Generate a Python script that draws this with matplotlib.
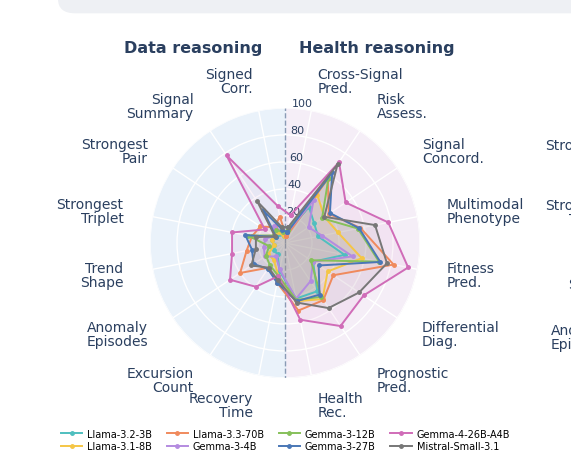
import numpy as np
import matplotlib
matplotlib.use('Agg')
import matplotlib.pyplot as plt
from matplotlib.patches import FancyBboxPatch

# axes, clockwise from top (right half = health, left half = data)
axes_labels = ["Cross-Signal\nPred.", "Risk\nAssess.", "Signal\nConcord.", "Multimodal\nPhenotype",
               "Fitness\nPred.", "Differential\nDiag.", "Prognostic\nPred.", "Health\nRec.",
               "Recovery\nTime", "Excursion\nCount", "Anomaly\nEpisodes", "Trend\nShape",
               "Strongest\nTriplet", "Strongest\nPair", "Signal\nSummary", "Signed\nCorr."]

llama_32_3b = [8, 32, 26, 25, 45, 25, 43, 42, 21, 10, 10, 8, 10, 8, 8, 5]
llama_31_8b = [8, 43, 35, 40, 58, 38, 50, 44, 25, 15, 15, 8, 10, 10, 10, 5]
llama_33_70b = [5, 57, 39, 57, 82, 43, 51, 51, 30, 22, 40, 29, 25, 22, 14, 20]
gemma_3_4b = [8, 38, 21, 28, 51, 25, 34, 42, 20, 12, 18, 16, 15, 10, 15, 8]
gemma_3_12b = [10, 58, 33, 55, 71, 23, 48, 43, 25, 20, 17, 12, 28, 10, 12, 8]
gemma_3_27b = [8, 63, 40, 56, 72, 30, 46, 44, 30, 23, 28, 25, 30, 8, 29, 10]
gemma_4_26b = [21, 72, 54, 78, 93, 70, 74, 58, 25, 39, 49, 40, 40, 18, 78, 28]
mistral_small = [12, 70, 35, 68, 77, 66, 58, 45, 28, 22, 30, 22, 22, 9, 37, 12]

series = [
    ("Llama-3.2-3B", llama_32_3b, "#4fbfbf"),
    ("Llama-3.1-8B", llama_31_8b, "#f5c645"),
    ("Llama-3.3-70B", llama_33_70b, "#f08a5d"),
    ("Gemma-3-4B", gemma_3_4b, "#b48be0"),
    ("Gemma-3-12B", gemma_3_12b, "#86c05a"),
    ("Gemma-3-27B", gemma_3_27b, "#4a77b6"),
    ("Gemma-4-26B-A4B", gemma_4_26b, "#d06cb8"),
    ("Mistral-Small-3.1", mistral_small, "#777777"),
]

TXT = "#2a3f5f"
n = len(axes_labels)
theta = np.deg2rad(11.25 + 22.5 * np.arange(n))

fig = plt.figure(figsize=(5.71, 4.77), dpi=100)
fig.patch.set_facecolor("white")

# grey rounded panel peeking at top right
fig.patches.append(FancyBboxPatch((58 / 571, 0.97), 0.95, 0.1, boxstyle="round,pad=0,rounding_size=0.03",
                                  transform=fig.transFigure, facecolor="#eef0f4", edgecolor="none"))

ax = fig.add_axes([0.2627, 0.2055, 0.4729, 0.566], projection="polar")
ax.set_theta_zero_location("N")
ax.set_theta_direction(-1)
ax.set_ylim(0, 100)
ax.set_facecolor("none")
ax.spines["polar"].set_visible(False)

# half backgrounds
th = np.linspace(0, np.pi, 200)
ax.fill_between(th, 0, 100, color="#f5eef7", zorder=0)
ax.fill_between(th + np.pi, 0, 100, color="#eaf2fa", zorder=0)

ax.set_xticks(theta)
ax.set_xticklabels([])
ax.set_yticks([20, 40, 60, 80, 100])
ax.set_yticklabels(["20", "40", "60", "80", "100"], color=TXT, fontsize=8)
ax.set_rlabel_position(3)
ax.grid(color="white", linewidth=1)
ax.tick_params(axis="x", length=0)

ax.plot([0, 0], [0, 100], ls="--", color="#8a9bb5", lw=1, zorder=2)
ax.plot([np.pi, np.pi], [0, 100], ls="--", color="#8a9bb5", lw=1, zorder=2)

for name, vals, col in series:
    t = np.append(theta, theta[0])
    v = np.append(vals, vals[0])
    ax.fill(t, v, color=col, alpha=0.08, zorder=3)
    ax.plot(t, v, color=col, lw=1.4, marker="o", ms=2.5, label=name, zorder=4)

for a, lab in zip(theta, axes_labels):
    deg = np.rad2deg(a)
    ha = "left" if deg < 180 else "right"
    ax.text(a, 122, lab, ha=ha, va="center", color=TXT, fontsize=10, linespacing=1.0)

fig.text(193 / 571, 1 - 48 / 477, "Data reasoning", ha="center", va="center", color=TXT,
         fontsize=11.5, fontweight="bold")
fig.text(377 / 571, 1 - 48 / 477, "Health reasoning", ha="center", va="center", color=TXT,
         fontsize=11.5, fontweight="bold")

# neighbouring chart labels cut by the right edge
for y, lab in [(153, "Strongest\nPair"), (213, "Strongest\nTriplet"), (278, "Trend\nShape"), (338, "Anomaly\nEpisodes")]:
    fig.text(612 / 571, 1 - y / 477, lab, ha="right", va="center", color=TXT, fontsize=10, linespacing=1.0)

leg = fig.legend(loc="center", bbox_to_anchor=(0.5, 1 - 441 / 477), ncol=4, frameon=False,
                 fontsize=7, handlelength=2.2, columnspacing=1.5, handletextpad=0.5, labelspacing=0.3)

fig.savefig("out.png", dpi=100)
